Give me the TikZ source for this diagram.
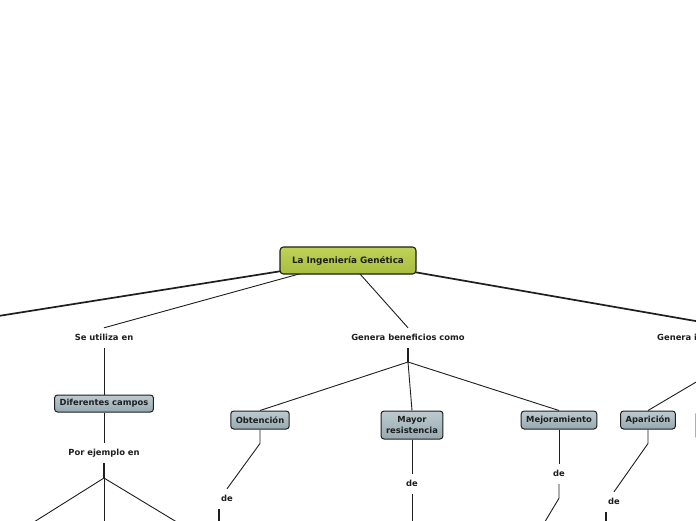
\documentclass[tikz,border=0pt]{standalone}
\usepackage{fontspec}
\setmainfont{DejaVu Sans}
\usetikzlibrary{backgrounds}
\definecolor{roottop}{HTML}{BFD257}
\definecolor{rootbot}{HTML}{A9BD41}
\definecolor{boxtop}{HTML}{BCCBD0}
\definecolor{boxbot}{HTML}{97A9B0}
\definecolor{ink}{HTML}{1E1E1E}
\tikzset{
  lbl/.style={font=\bfseries\fontsize{8.4}{10.5}\selectfont, text=ink,
    inner xsep=1pt, inner ysep=6pt, text height=6.4pt, text depth=1.6pt},
  topicbox/.style={font=\bfseries\fontsize{8.4}{10.5}\selectfont, text=ink,
    draw=ink, line width=1pt, rounded corners=3pt, top color=boxtop, bottom color=boxbot,
    inner xsep=5pt, inner ysep=2pt, minimum height=18pt, align=center},
  rootbox/.style={font=\bfseries\fontsize{8.8}{11}\selectfont, text=ink,
    draw=ink, line width=1.1pt, rounded corners=3.5pt, top color=roottop, bottom color=rootbot,
    minimum width=136pt, minimum height=27pt},
  conn/.style={draw=ink, line width=0.9pt},
  mainconn/.style={draw=ink, line width=1.7pt},
  barconn/.style={draw=ink, line width=1.4pt}
}
\begin{document}
\begin{tikzpicture}[x=1pt,y=-1pt]
\path[use as bounding box] (0,0) rectangle (696,520);
\clip (0,0) rectangle (696,520);

% nodes
\node[rootbox] (root) at (348,260.5) {La Ingeniería Genética};

\node[lbl] (seu) at (104,338) {Se utiliza en};
\node[topicbox, minimum height=17pt] (dif) at (104,403.5) {Diferentes campos};
\node[lbl] (pej) at (104,453) {Por ejemplo en};
\coordinate (pejj) at (104,478);
\coordinate (pA) at (26,527);
\coordinate (pB) at (104,527);
\coordinate (pC) at (185,527);

\node[lbl] (gb) at (408,338) {Genera beneficios como};
\coordinate (gbj) at (408,362);
\node[topicbox] (obt) at (260,420) {Obtención};
\node[topicbox, minimum height=28pt] (may) at (412,425) {Mayor\\resistencia};
\node[topicbox] (mej) at (559,420) {Mejoramiento};
\node[lbl] (de1) at (227,499) {de};
\node[lbl] (de2) at (412,484) {de};
\node[lbl] (de3) at (559,474) {de};

\node[lbl, anchor=west] (gi) at (656,338) {Genera i};
\coordinate (giN) at (730,327);
\coordinate (gij) at (730,362);
\node[topicbox] (apa) at (648,420) {Aparición};
\node[lbl] (de4) at (614,502) {de};
\node[topicbox, minimum height=28pt, minimum width=70pt, anchor=north west] (rbox) at (695.5,411) {};

\coordinate (lN) at (-71,327);
\coordinate (d1e) at (219,530);
\coordinate (d2e) at (412,530);
\coordinate (d3e) at (540,530);
\coordinate (d4e) at (606,530);

% connectors
\begin{scope}[on background layer]
\clip (0,0) rectangle (696,520);
\fill[white] (0,0) rectangle (696,520);
\draw[mainconn] (root.center) -- (lN);
\draw[mainconn] (root.center) -- (giN);
\draw[conn] (root.center) -- (seu.north);
\draw[conn] (root.center) -- (gb.north);

\draw[conn] (seu.south) -- (dif.north);
\draw[conn] (dif.south) -- (pej.north);
\draw[barconn] (pej.south) -- (pejj);
\draw[conn] (pejj) -- (pA);
\draw[conn] (pejj) -- (pB);
\draw[conn] (pejj) -- (pC);

\draw[barconn] (gb.south) -- (gbj);
\draw[conn] (gbj) -- (obt.north);
\draw[conn] (gbj) -- (may.north);
\draw[conn] (gbj) -- (mej.north);

\draw[conn] (obt.south) -- ++(0,14) -- (de1.north);
\draw[conn] (may.south) -- (de2.north);
\draw[conn] (mej.south) -- (de3.north);
\draw[barconn] (de1.south -| d1e) -- (d1e);
\draw[conn] (de2.south) -- (d2e);
\draw[conn] (de3.south) -- ++(0,14) -- (d3e);

\draw[barconn] (giN) -- (gij);
\draw[conn] (gij) -- (apa.north);
\draw[conn] (gij) -- (rbox.north);
\draw[conn] (apa.south) -- ++(0,14) -- (de4.north);
\draw[barconn] (de4.south -| d4e) -- (d4e);
\end{scope}
\end{tikzpicture}
\end{document}
